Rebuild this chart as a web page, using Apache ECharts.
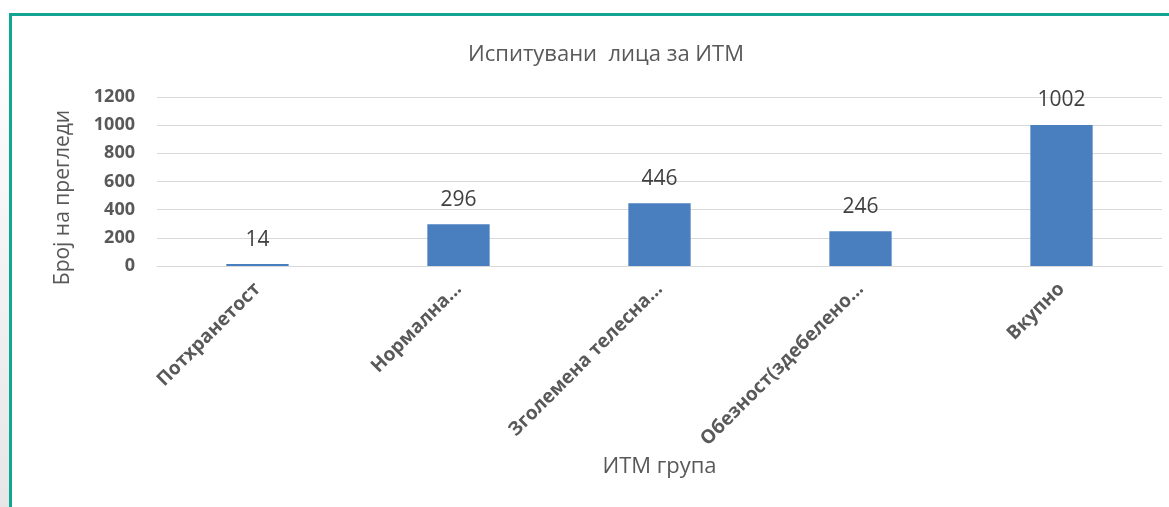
<!DOCTYPE html>
<html>
<head>
<meta charset="utf-8">
<title>Испитувани лица за ИТМ</title>
<script src="https://cdn.jsdelivr.net/npm/echarts@6/dist/echarts.min.js"></script>
<style>
  html, body { margin: 0; padding: 0; background: #fff; }
  #strip { position: absolute; left: 0; top: 14px; width: 9px; height: 493px;
           background: linear-gradient(#ffffff, #e6e6e6); }
  #frame { position: absolute; left: 9px; top: 13px; width: 1170px; height: 510px;
           border-left: 3px solid #13a594; border-top: 3px solid #13a594; }
  #chart { position: absolute; left: 0; top: 0; width: 1169px; height: 507px; }
</style>
</head>
<body>
<div id="strip"></div>
<div id="frame"></div>
<div id="chart"></div>
<script>
// категории и вредности
var categories = ['Потхранетост', 'Нормална...', 'Зголемена телесна...', 'Обезност(здебелено...', 'Вкупно'];
var values = [14, 296, 446, 246, 1002];
var yTicks = [0, 200, 400, 600, 800, 1000, 1200];

var chart = echarts.init(document.getElementById('chart'), null, { renderer: 'canvas' });

var grey = '#595959';
var font = '"Open Sans", "DejaVu Sans", sans-serif';

chart.setOption({
  backgroundColor: 'transparent',
  animation: false,
  title: {
    text: 'Испитувани  лица за ИТМ',
    left: 601,
    top: 39,
    textAlign: 'center',
    textStyle: { color: grey, fontSize: 22, fontWeight: 'normal', fontFamily: font }
  },
  grid: { left: 157, right: 7, top: 97, bottom: 241 },
  xAxis: {
    type: 'category',
    data: categories,
    name: 'ИТМ група',
    nameLocation: 'middle',
    nameGap: 190,
    nameTextStyle: { color: grey, fontSize: 22, fontFamily: font },
    axisLine: { show: true, lineStyle: { color: '#d9d9d9' } },
    axisTick: { show: false },
    axisLabel: {
      rotate: 45,
      interval: 0,
      margin: 20,
      color: grey,
      fontSize: 19,
      fontWeight: 'bold',
      fontFamily: font
    }
  },
  yAxis: {
    type: 'value',
    min: yTicks[0],
    max: yTicks[yTicks.length - 1],
    interval: 200,
    name: 'Број на прегледи',
    nameLocation: 'middle',
    nameGap: 83,
    nameTextStyle: { color: grey, fontSize: 21, fontFamily: font, padding: [0, 32, 0, 0] },
    axisLine: { show: false },
    axisTick: { show: false },
    axisLabel: {
      margin: 22, color: grey, fontSize: 18, fontWeight: 'bold', fontFamily: font,
      formatter: function (v) { return String(v); }
    },
    splitLine: { lineStyle: { color: '#d9d9d9', width: 1 } }
  },
  series: [{
    type: 'bar',
    data: values,
    barWidth: '31%',
    itemStyle: { color: '#4a7fbf' },
    label: {
      show: true,
      position: 'top',
      distance: 14,
      color: '#404040',
      fontSize: 21,
      fontFamily: font
    }
  }]
});
</script>
</body>
</html>
